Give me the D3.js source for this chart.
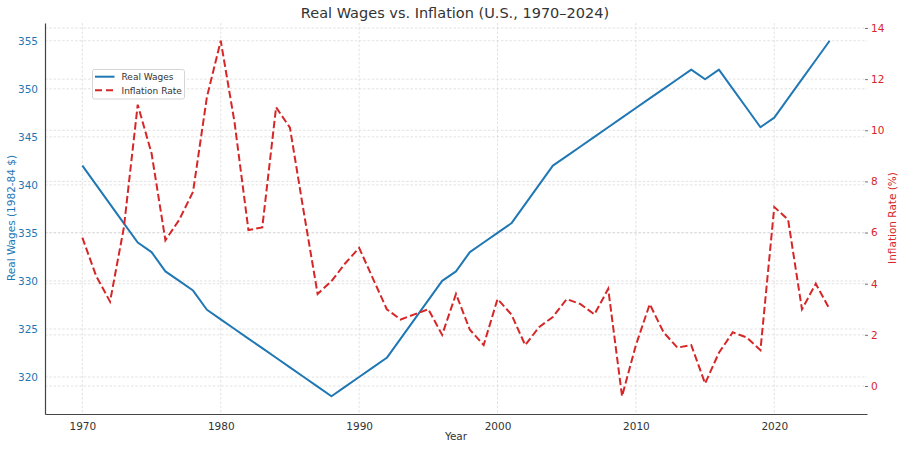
<!DOCTYPE html>
<html><head><meta charset="utf-8">
<script src="https://cdn.jsdelivr.net/npm/d3@7"></script>
<style>body{margin:0;background:#fff}svg{display:block;font-family:"DejaVu Sans",sans-serif}</style>
</head><body><svg id="c" width="905" height="449"></svg>
<script>
const years = d3.range(1970, 2025);
const realWages = [342,340,338,336,334,333,331,330,329,327,
  326,325,324,323,322,321,320,319,318,319,
  320,321,322,324,326,328,330,331,333,334,
  335,336,338,340,342,343,344,345,346,347,
  348,349,350,351,352,351,352,350,348,346,
  347,349,351,353,355];
const inflation = [5.8,4.3,3.3,6.2,11.0,9.1,5.7,6.5,7.6,11.3,
  13.5,10.3,6.1,6.2,10.9,10.1,6.8,3.6,4.1,4.8,
  5.4,4.2,3.0,2.6,2.8,3.0,2.0,3.6,2.2,1.6,
  3.4,2.8,1.6,2.3,2.7,3.4,3.2,2.8,3.8,-0.4,
  1.6,3.2,2.1,1.5,1.6,0.1,1.3,2.1,1.9,1.4,
  7.0,6.5,3.0,4.0,3.0];
const xTicks = [1970,1980,1990,2000,2010,2020];
const yLeftTicks = [320,325,330,335,340,345,350,355];
const yRightTicks = [0,2,4,6,8,10,12,14];

const BLUE = "#1f77b4", RED = "#d62728", TXT = "#333";
const L = 45, R = 867, T = 23, B = 414;
const svg = d3.select("#c");

const x = d3.scaleLinear().domain([1967.3, 2026.7]).range([L, R]);
const yL = d3.scaleLinear().domain([316.15, 356.85]).range([B, T]);
const yR = d3.scaleLinear().domain([-1.095, 14.195]).range([B, T]);

const grid = svg.append("g").attr("stroke", "#d6d6d6").attr("stroke-width", 0.7).attr("stroke-dasharray", "2.5,1.8");
grid.selectAll(".v").data(xTicks).join("line").attr("x1", d => x(d)).attr("x2", d => x(d)).attr("y1", T).attr("y2", B);
grid.selectAll(".hl").data(yLeftTicks).join("line").attr("x1", L).attr("x2", R).attr("y1", d => yL(d)).attr("y2", d => yL(d));
grid.selectAll(".hr").data(yRightTicks).join("line").attr("x1", L).attr("x2", R).attr("y1", d => yR(d)).attr("y2", d => yR(d));

// lines
svg.append("path").datum(years.map((y, i) => [y, realWages[i]]))
  .attr("fill", "none").attr("stroke", BLUE).attr("stroke-width", 2).attr("stroke-linejoin", "round")
  .attr("d", d3.line().x(d => x(d[0])).y(d => yL(d[1])));
svg.append("path").datum(years.map((y, i) => [y, inflation[i]]))
  .attr("fill", "none").attr("stroke", RED).attr("stroke-width", 2).attr("stroke-dasharray", "7.4,3.2")
  .attr("d", d3.line().x(d => x(d[0])).y(d => yR(d[1])));

// axes
const fs = "10.5px";
const xa = svg.append("g").attr("transform", `translate(0,${B})`)
  .call(d3.axisBottom(x).tickValues(xTicks).tickFormat(d3.format("d")).tickSize(0).tickPadding(9));
xa.select(".domain").attr("stroke", "#444").attr("stroke-width", 1.2);
xa.selectAll("text").attr("fill", TXT).style("font-size", fs).style("font-family", "DejaVu Sans");

const ya = svg.append("g").attr("transform", `translate(${L},0)`)
  .call(d3.axisLeft(yL).tickValues(yLeftTicks).tickSize(0).tickPadding(7));
ya.select(".domain").attr("stroke", "#444").attr("stroke-width", 1.2);
ya.selectAll("text").attr("fill", BLUE).style("font-size", fs).style("font-family", "DejaVu Sans");

const yra = svg.append("g").attr("transform", `translate(${R - 2},0)`)
  .call(d3.axisRight(yR).tickValues(yRightTicks).tickSize(3).tickPadding(3));
yra.select(".domain").remove();
yra.selectAll("line").attr("stroke", "#777");
yra.selectAll("text").attr("fill", RED).style("font-size", fs).style("font-family", "DejaVu Sans");

// labels
svg.append("text").attr("x", 455).attr("y", 18).attr("text-anchor", "middle")
  .attr("fill", TXT).style("font-size", "14.5px").text("Real Wages vs. Inflation (U.S., 1970–2024)");
svg.append("text").attr("x", 456).attr("y", 440).attr("text-anchor", "middle")
  .attr("fill", TXT).style("font-size", "10.5px").text("Year");
svg.append("text").attr("transform", "translate(15,218) rotate(-90)").attr("text-anchor", "middle")
  .attr("fill", BLUE).style("font-size", "10.5px").text("Real Wages (1982-84 $)");
svg.append("text").attr("transform", "translate(896,218) rotate(-90)").attr("text-anchor", "middle")
  .attr("fill", RED).style("font-size", "10.5px").text("Inflation Rate (%)");

// legend
const lg = svg.append("g");
lg.append("rect").attr("x", 92.5).attr("y", 69.5).attr("width", 92).attr("height", 29.5).attr("rx", 2)
  .attr("fill", "#fff").attr("fill-opacity", 0.85).attr("stroke", "#d5d5d5");
const items = [{label: "Real Wages", color: BLUE, dash: null}, {label: "Inflation Rate", color: RED, dash: "7,4"}];
items.forEach((it, i) => {
  const yy = 76.7 + i * 13.5;
  lg.append("line").attr("x1", 95).attr("x2", 114.5).attr("y1", yy).attr("y2", yy)
    .attr("stroke", it.color).attr("stroke-width", 2).attr("stroke-dasharray", it.dash);
  lg.append("text").attr("x", 121.5).attr("y", yy + 3.3).attr("fill", TXT).style("font-size", "9px").text(it.label);
});
</script></body></html>
